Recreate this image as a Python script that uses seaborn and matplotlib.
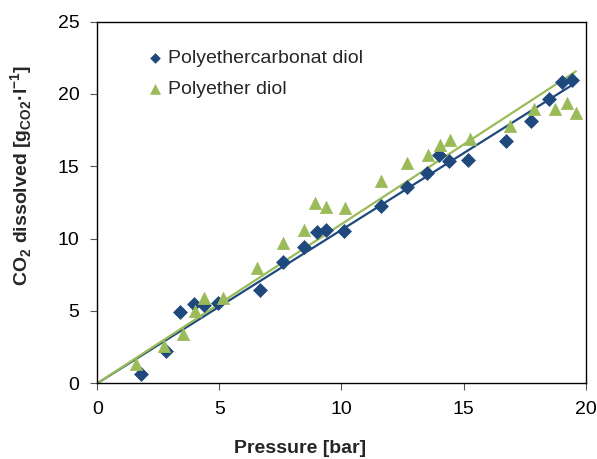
import matplotlib
matplotlib.use("Agg")
import matplotlib.pyplot as plt
import seaborn as sns
import pandas as pd

# ---- data ----
pec_x = [1.8, 2.8, 3.4, 3.95, 4.35, 4.95, 6.65, 7.6, 8.45, 9.0, 9.35, 10.1,
         11.6, 12.7, 13.5, 14.0, 14.4, 15.2, 16.75, 17.75, 18.5, 19.05, 19.45]
pec_y = [0.65, 2.25, 4.9, 5.45, 5.4, 5.55, 6.45, 8.4, 9.45, 10.45, 10.6, 10.55,
         12.25, 13.6, 14.55, 15.8, 15.35, 15.4, 16.75, 18.15, 19.65, 20.85, 20.95]

pe_x = [1.6, 2.75, 3.5, 4.0, 4.35, 5.15, 6.55, 7.6, 8.45, 8.9, 9.35, 10.15,
        11.6, 12.7, 13.55, 14.05, 14.45, 15.25, 16.9, 17.9, 18.75, 19.25, 19.6]
pe_y = [1.35, 2.55, 3.4, 5.0, 5.9, 5.9, 7.95, 9.7, 10.6, 12.45, 12.15, 12.1,
        13.95, 15.25, 15.8, 16.45, 16.8, 16.85, 17.75, 18.95, 18.95, 19.35, 18.65]

series_names = ["Polyethercarbonat diol", "Polyether diol"]
trend_slopes = [1.06, 1.10]      # linear trend through origin
trend_xmax = [19.45, 19.6]

x_ticks = [0, 5, 10, 15, 20]
y_ticks = [0, 5, 10, 15, 20, 25]

blue = "#1F497D"
green = "#9BBB59"

sns.set_style("ticks")
plt.rcParams["font.family"] = ["Liberation Sans", "DejaVu Sans"]
plt.rcParams["mathtext.fontset"] = "custom"
plt.rcParams["mathtext.rm"] = "Liberation Sans:bold"
plt.rcParams["mathtext.bf"] = "Liberation Sans:bold"

fig = plt.figure(figsize=(5.97, 4.59), dpi=100)
ax = fig.add_axes([0.163, 0.165, 0.818, 0.788])

df_pec = pd.DataFrame({"x": pec_x, "y": pec_y})
df_pe = pd.DataFrame({"x": pe_x, "y": pe_y})

trend_frames = []
for name, k, xm in zip(series_names, trend_slopes, trend_xmax):
    trend_frames.append(pd.DataFrame({"x": [0, xm], "y": [0, k * xm], "s": name}))
df_tr = pd.concat(trend_frames, ignore_index=True)

sns.lineplot(data=df_tr[df_tr.s == series_names[0]], x="x", y="y", color=blue,
             lw=1.6, ax=ax, legend=False, zorder=2)
sns.lineplot(data=df_tr[df_tr.s == series_names[1]], x="x", y="y", color=green,
             lw=1.6, ax=ax, legend=False, zorder=2)

sns.scatterplot(data=df_pec, x="x", y="y", marker="D", s=50, color=blue,
                edgecolor=blue, linewidth=0.5, ax=ax, label=series_names[0], zorder=3)
sns.scatterplot(data=df_pe, x="x", y="y", marker="^", s=78, color=green,
                edgecolor=green, linewidth=0.5, ax=ax, label=series_names[1], zorder=4)

ax.set_xlim(0, 20)
ax.set_ylim(0, 25)
ax.set_xticks(x_ticks)
ax.set_yticks(y_ticks)
ax.tick_params(axis="both", labelsize=14, length=5, width=0.8, color="#555555",
               direction="out", pad=8, labelcolor="black")
for sp in ax.spines.values():
    sp.set_visible(True)
    sp.set_color("black")
    sp.set_linewidth(1.0)

ax.set_xlabel("Pressure [bar]", fontsize=14, fontweight="bold")
ax.set_ylabel(r"CO$_2$ dissolved [g$_{\mathrm{CO2}}$·l$^{-1}$]", fontsize=14,
              fontweight="bold")
ax.xaxis.set_label_coords(0.415, -0.157)
ax.yaxis.set_label_coords(-0.128, 0.576)

leg = ax.legend(loc="upper left", bbox_to_anchor=(0.09, 0.944), frameon=False,
                fontsize=14, handlelength=0.6, handletextpad=0.35,
                labelspacing=0.7, borderaxespad=0)
handles = getattr(leg, "legend_handles", None) or leg.legendHandles
handles[0].set_sizes([24])
handles[1].set_sizes([50])

fig.savefig("out.png", dpi=100)
